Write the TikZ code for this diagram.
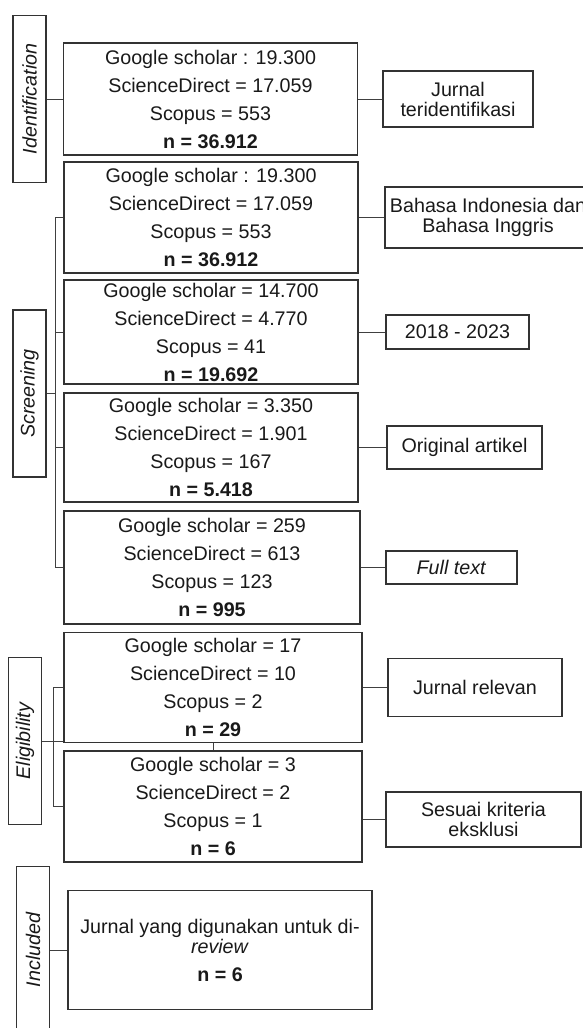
\documentclass[tikz,border=0pt]{standalone}
\usepackage{fontspec}
\setmainfont{Liberation Sans}
\usetikzlibrary{calc}

\begin{document}
\begin{tikzpicture}[
            x=1pt, y=-1pt,
            every node/.style={text=black!90},
            stage/.style={draw=black!80, line width=1.2pt, rotate=90,
                minimum width=167pt, minimum height=33pt, inner sep=0pt,
                font=\fontsize{19.7}{24}\selectfont\itshape},
            countbox/.style={draw=black!80, line width=1.2pt, minimum width=294pt,
                inner sep=0pt, align=center, font=\fontsize{19.7}{28}\selectfont},
            reason/.style={draw=black!80, line width=1.2pt, inner sep=0pt,
                align=center, font=\fontsize{19.7}{20}\selectfont},
            link/.style={draw=black!75, line width=1pt}
        ]

            \useasboundingbox (0,0) rectangle (583,1028);

            \node[stage] (ident) at (29.5, 99) {Identification};
            \node[stage] (screen) at (29.5, 393.5) {Screening};
            \node[stage] (elig) at (25, 741) {Eligibility};
            \node[stage] (incl) at (33, 950) {Included};

            \node[countbox, minimum height=112pt] (b1) at (210.5, 99) {Google scholar : 19.300\\ ScienceDirect = 17.059\\ Scopus = 553\\ \textbf{n = 36.912}};
            \node[countbox, minimum height=111pt] (b2) at (211, 217.5) {Google scholar : 19.300\\ ScienceDirect = 17.059\\ Scopus = 553\\ \textbf{n = 36.912}};
            \node[countbox, minimum height=104pt] (b3) at (211, 332) {Google scholar = 14.700\\ ScienceDirect = 4.770\\ Scopus = 41\\ \textbf{n = 19.692}};
            \node[countbox, minimum height=109pt] (b4) at (211, 447.5) {Google scholar = 3.350\\ ScienceDirect = 1.901\\ Scopus = 167\\ \textbf{n = 5.418}};
            \node[countbox, minimum height=113pt, minimum width=296pt] (b5) at (212, 567.5) {Google scholar = 259\\ ScienceDirect = 613\\ Scopus = 123\\ \textbf{n = 995}};
            \node[countbox, minimum height=110pt, minimum width=298pt] (b6) at (213, 687.5) {Google scholar = 17\\ ScienceDirect = 10\\ Scopus = 2\\ \textbf{n = 29}};
            \node[countbox, minimum height=111pt, minimum width=298pt] (b7) at (213, 806.5) {Google scholar = 3\\ ScienceDirect = 2\\ Scopus = 1\\ \textbf{n = 6}};
            \node[countbox, minimum height=119pt, minimum width=304pt] (b8) at (220, 950) {Jurnal yang digunakan untuk di-\\[-8pt] \textit{review}\\ \textbf{n = 6}};

            \node[reason, minimum width=150pt, minimum height=56pt] (s1) at (458, 99) {Jurnal\\ teridentifikasi};
            \node[reason, minimum width=206pt, minimum height=61pt] (s2) at (488, 217.5) {Bahasa Indonesia dan\\ Bahasa Inggris};
            \node[reason, minimum width=143pt, minimum height=34pt] (s3) at (457.5, 332) {2018 - 2023};
            \node[reason, minimum width=155pt, minimum height=43pt] (s4) at (464.5, 447.5) {Original artikel};
            \node[reason, minimum width=131pt, minimum height=33pt] (s5) at (451.5, 567.5) {\textit{Full text}};
            \node[reason, minimum width=174pt, minimum height=58pt] (s6) at (475, 687.5) {Jurnal relevan};
            \node[reason, minimum width=195pt, minimum height=55pt] (s7) at (483.5, 819.5) {Sesuai kriteria\\ eksklusi};

            \draw[link] (ident) -- (b1);
            \draw[link] (b1) -- (s1);
            \draw[link] (b2) -- (s2);
            \draw[link] (b3) -- (s3);
            \draw[link] (b4) -- (s4);
            \draw[link] (b5) -- (s5);
            \draw[link] (b6) -- (s6);
            \draw[link] (b7.east |- s7) -- (s7);

            \coordinate (scr) at (55, 393.5);
            \draw[link] (b2.west) -- (b2.west -| scr) -- (b5.west -| scr) -- (b5.west);
            \draw[link] (b3.west -| scr) -- (b3.west);
            \draw[link] (b4.west -| scr) -- (b4.west);
            \draw[link] (screen) -- (scr);

            \coordinate (elg) at (53, 741);
            \draw[link] (b6.west) -- (b6.west -| elg) -- (b7.west -| elg) -- (b7.west);
            \draw[link] (elig) -- (elig -| b6.west);
            \draw[link] (b6) -- (b7);

            \draw[link] (incl) -- (b8);
        \end{tikzpicture}
\end{document}
